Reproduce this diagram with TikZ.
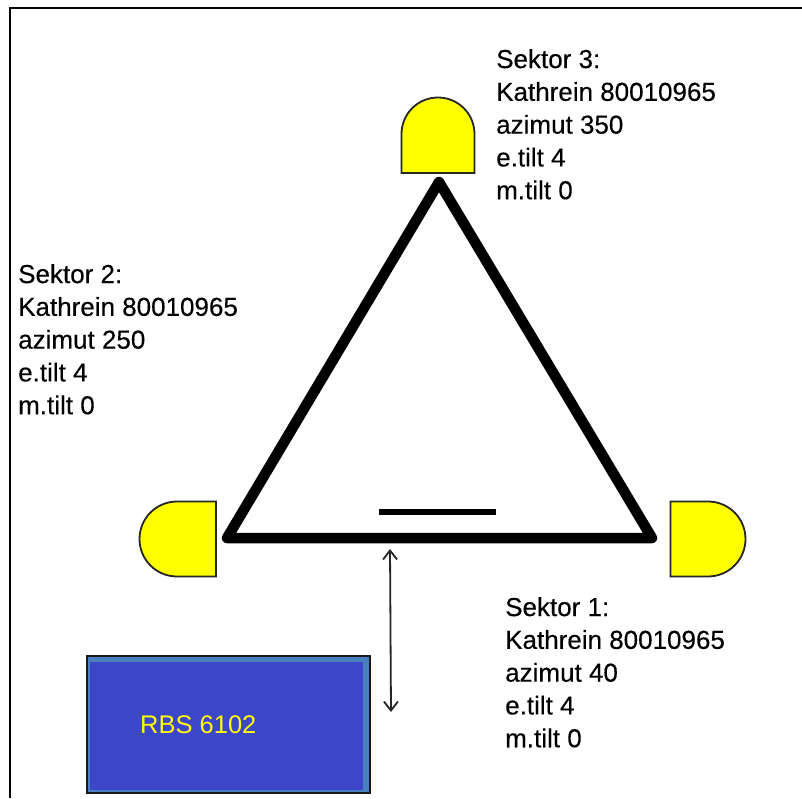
\documentclass[tikz,border=0pt]{standalone}
\usepackage{fontspec}
\setmainfont{Liberation Sans}
\newfontfamily\labelfont[FakeBold=0.25]{Liberation Sans}
\usetikzlibrary{arrows.meta}
\definecolor{rbsfill}{HTML}{3C46C8}
\definecolor{rbsband}{HTML}{4A7FC0}
\definecolor{pureyellow}{HTML}{FFFF00}
\tikzset{
  frameline/.style={line width=2.4pt,black},
  antenna/.style={draw=black!85,line width=1.8pt,fill=pureyellow,line join=miter},
  mast/.style={line width=10.5pt,black,line join=round,line cap=round},
  info/.style={anchor=north west,align=left,inner sep=0pt,text=black,font=\labelfont\fontsize{26}{32.8}\selectfont},
  link/.style={line width=1.8pt,black!85,{Straight Barb[length=9pt,width=14pt,line width=1.8pt]}-{Straight Barb[length=9pt,width=14pt,line width=1.8pt]}}
}
\begin{document}
\begin{tikzpicture}[x=1pt,y=-1pt]
\useasboundingbox (0,0) rectangle (802,798);
\fill[white] (0,0) rectangle (802,798);
% frame
\coordinate (fa) at (802,8);
\coordinate (fb) at (10,8);
\coordinate (fc) at (10,798);
\draw[frameline] (fa) -- (fb) -- (fc);
% triangle
\coordinate (top) at (439,182);
\coordinate (left) at (227,538);
\coordinate (right) at (652,538);
\draw[mast] (top) -- (left) -- (right) -- cycle;
\coordinate (ba) at (379,512);
\coordinate (bb) at (496,512);
\draw[line width=6pt,black] (ba) -- (bb);
% antennas
\draw[antenna] (401.5,173) -- (401.5,134) arc[start angle=180,end angle=360,radius=36.5] -- (474.5,173) -- cycle;
\draw[antenna] (670.5,501.5) -- (708,501.5) arc[start angle=-90,end angle=90,radius=37.5] -- (670.5,576.5) -- cycle;
\draw[antenna] (216,501.5) -- (177,501.5) arc[start angle=270,end angle=90,radius=37.5] -- (216,576.5) -- cycle;
% RBS
\fill[rbsband] (87,656) rectangle (370,793);
\fill[rbsfill] (90,662) rectangle (363,790);
\draw[black!90,line width=2.8pt] (87,656) rectangle (370,793);
\node[anchor=base west,inner sep=0pt,text=pureyellow,font=\fontsize{25.5}{30}\selectfont] (rbs) at (140,733) {RBS 6102};
% link
\coordinate (la) at (390,549);
\coordinate (lb) at (391,712);
\draw[link] (la) -- (lb);
% labels
\node[info] (s3) at (496,49) {Sektor 3:\\Kathrein 80010965\\azimut 350\\e.tilt 4\\m.tilt 0};
\node[info] (s2) at (18,264) {Sektor 2:\\Kathrein 80010965\\azimut 250\\e.tilt 4\\m.tilt 0};
\node[info] (s1) at (505,597) {Sektor 1:\\Kathrein 80010965\\azimut 40\\e.tilt 4\\m.tilt 0};
\end{tikzpicture}
\end{document}
